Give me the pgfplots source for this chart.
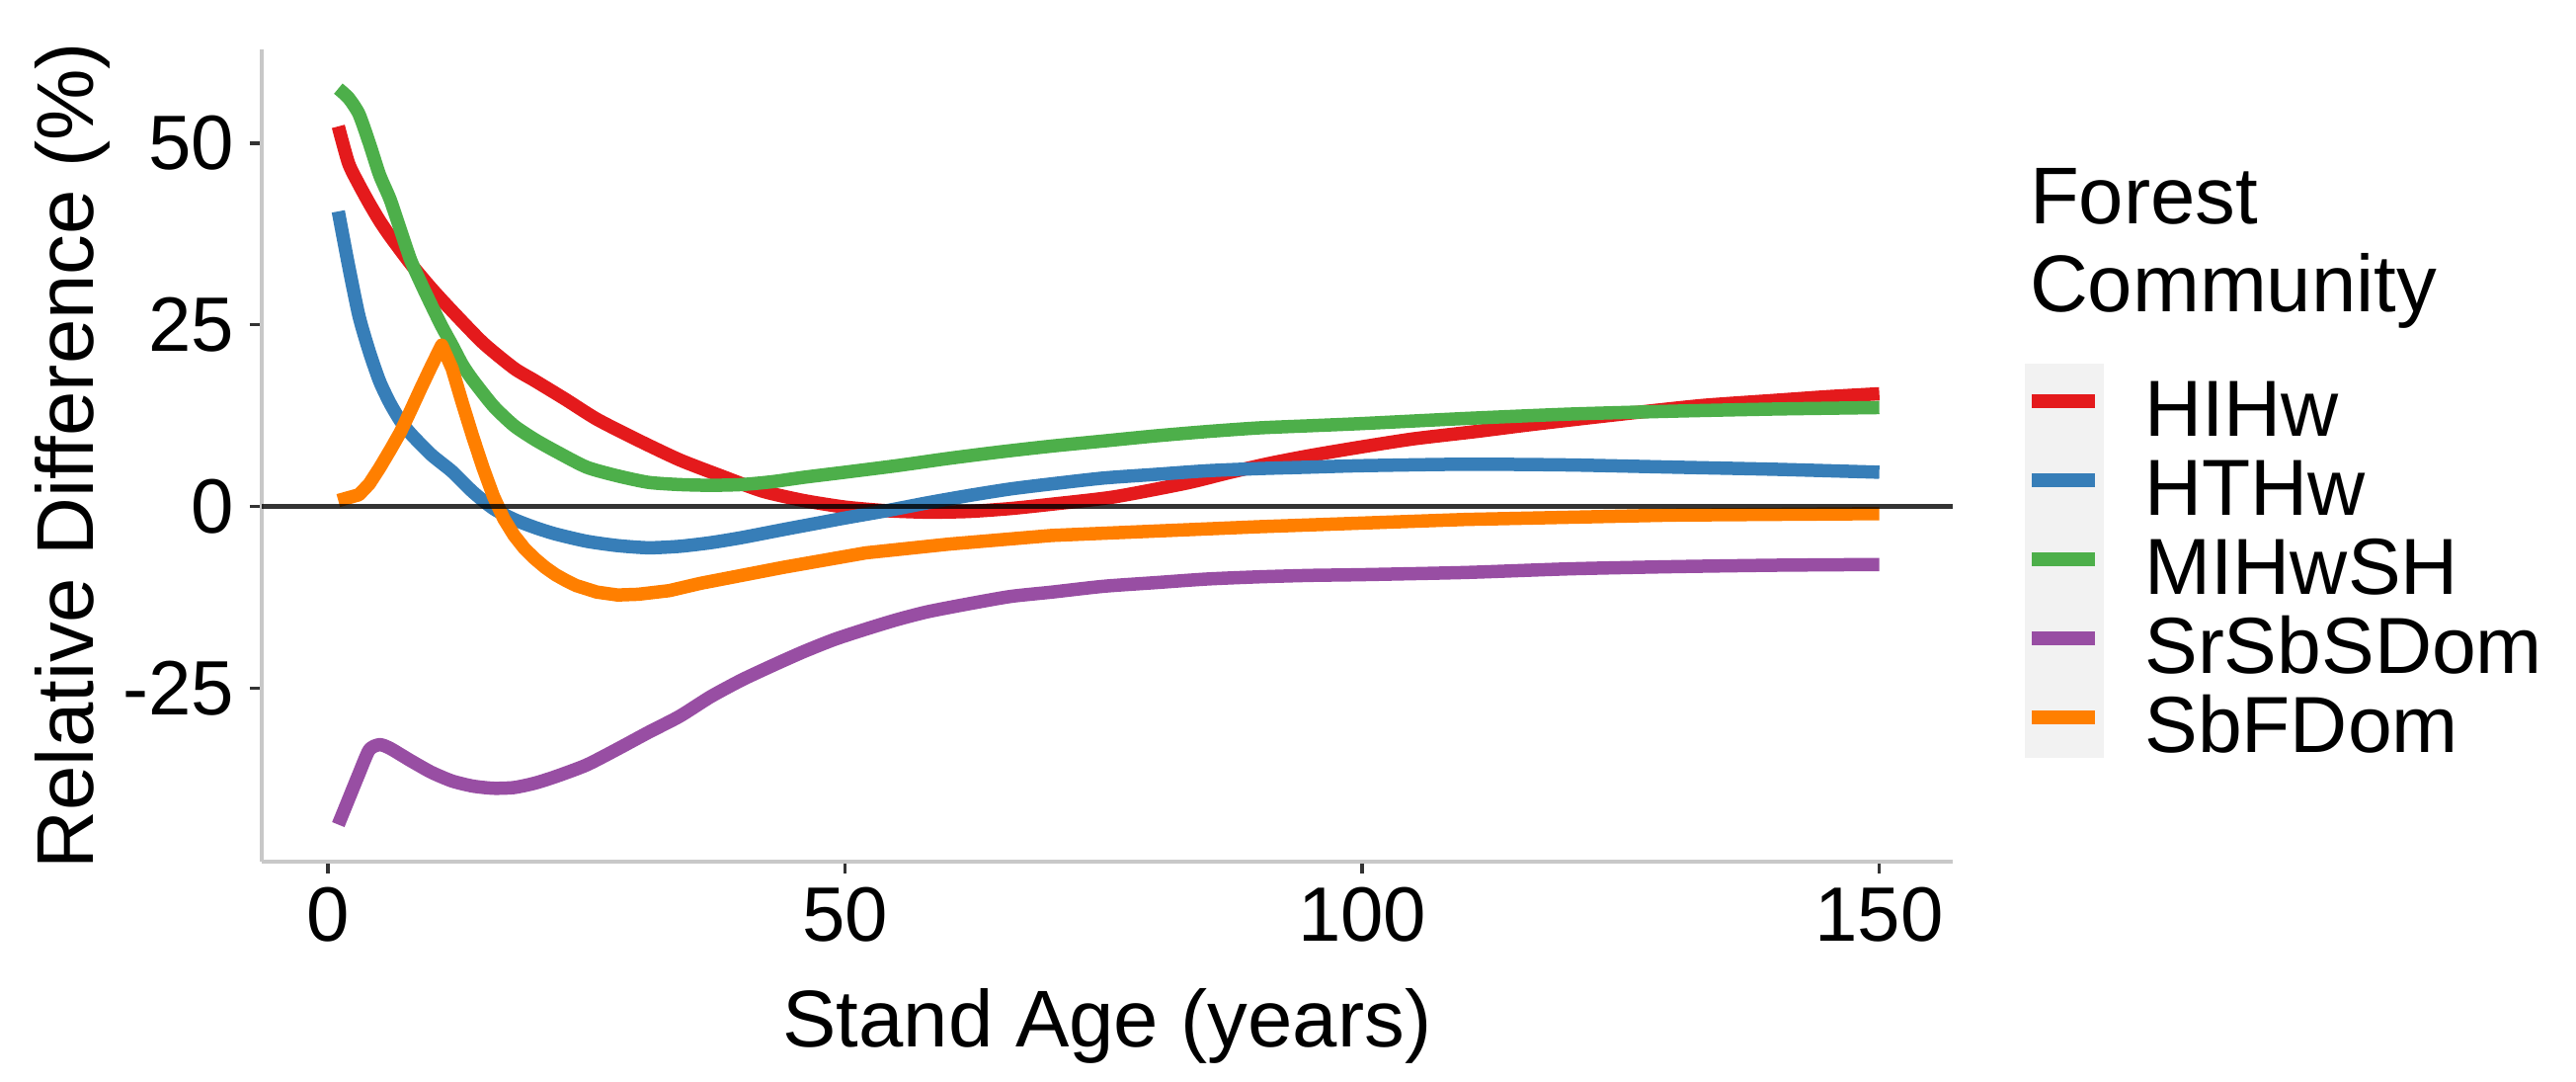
\documentclass[border=0pt]{standalone}
\usepackage{fontspec}
\setmainfont{Liberation Sans}
\usepackage{pgfplots}
\pgfplotsset{compat=1.18}
\definecolor{cRed}{HTML}{E41A1C}
\definecolor{cBlue}{HTML}{377EB8}
\definecolor{cGreen}{HTML}{4DAF4A}
\definecolor{cPurple}{HTML}{984EA3}
\definecolor{cOrange}{HTML}{FF7F00}
\definecolor{keybg}{HTML}{F2F2F2}
\definecolor{axgray}{HTML}{C8C8C8}
\definecolor{tickgray}{HTML}{333333}
\begin{document}
\begin{tikzpicture}
\fill[keybg] (357pt,21pt) rectangle (373pt,100.8pt);
\begin{axis}[
  at={(0,0)}, anchor=south west,
  width=342.4pt, height=164.4pt, scale only axis,
  xmin=-6.4, xmax=157.1, ymin=-48.9, ymax=62.9,
  axis x line*=bottom, axis y line*=left,
  axis line style={draw=axgray, line width=0.8pt},
  tick style={draw=tickgray, line width=0.7pt},
  tick align=outside, major tick length=2.4pt,
  xtick={0,50,100,150}, xticklabels={0,50,100,150},
  ytick={-25,0,25,50}, yticklabels={-25,0,25,50},
  ticklabel style={font=\fontsize{15.6}{18}\selectfont, inner sep=0pt},
  xticklabel style={anchor=north, yshift=-2.6pt},
  yticklabel style={anchor=east, xshift=-3pt},
  xlabel={Stand Age (years)},
  xlabel style={font=\fontsize{16.3}{19}\selectfont, at={(axis description cs:0.5,0)}, anchor=base, yshift=-37.6pt, inner sep=0pt},
  ylabel={Relative Difference (\%)},
  ylabel style={font=\fontsize{16.3}{19}\selectfont, at={(axis description cs:-0.0993,0.5)}, anchor=base, inner sep=0pt},
  clip mode=individual,
  legend style={at={(axis description cs:1.0427,0.5955)}, anchor=north west, draw=none, fill=none,
    inner sep=0pt, outer sep=0pt, row sep=0pt, column sep=0pt,
    font=\fontsize{16.1}{19}\selectfont,
    nodes={inner sep=0pt, text height=11.9pt, text depth=4.1pt},
    cells={anchor=west}},
  legend image code/.code={\draw[#1, line width=2.9pt] (0pt,3.3pt) -- (12.7pt,3.3pt); \path[draw=none, fill=none] (0pt,3.3pt) -- (22.8pt,3.3pt);},
  every axis plot/.append style={line width=2.7pt, line cap=butt, line join=round},
]
% HIHw
\addplot[cRed, smooth, tension=0.4] table {
x y
1 52.3
2 47.2
3 44.3
4 41.7
5 39.3
6 37.2
8 33.4
10 30.0
12 26.9
15 22.5
18 19.0
20 17.3
23 14.7
26 12.0
30 9.1
34 6.4
38 4.2
42 2.1
46 0.8
50 -0.1
54 -0.6
58 -0.8
62 -0.7
66 -0.3
70 0.3
76 1.3
83 3.2
87 4.6
91 5.9
95 7.0
100 8.2
105 9.3
111 10.3
116 11.2
122 12.2
127 13.0
133 13.9
140 14.6
145 15.1
150 15.5
};
\addlegendentry{HIHw}
% HTHw
\addplot[cBlue, smooth, tension=0.4] table {
x y
1 40.6
2 33.1
3 26.2
4 21.3
5 17.2
6 14.2
7 11.8
8 10.0
10 7.1
12 4.8
14 2.0
16 -0.3
18 -1.8
20 -2.9
22 -3.8
25 -4.8
28 -5.4
31 -5.7
34 -5.5
37 -5.0
40 -4.3
44 -3.2
47 -2.4
50 -1.6
54 -0.6
58 0.5
62 1.5
66 2.4
70 3.1
75 3.9
80 4.4
85 4.9
90 5.2
95 5.4
100 5.6
110 5.8
120 5.7
130 5.4
140 5.1
150 4.7
};
\addlegendentry{HTHw}
% MIHwSH
\addplot[cGreen, smooth, tension=0.4] table {
x y
1 57.5
2 56.2
3 54.0
4 50.0
5 45.6
6 42.3
7 38.1
8 33.9
9 30.7
10 27.7
11 24.8
12 22.2
13 19.5
14 17.4
16 13.8
18 11.1
20 9.2
22 7.6
25 5.4
28 4.2
31 3.3
34 3.0
37 2.9
40 3.0
43 3.4
46 4.0
50 4.7
55 5.6
60 6.6
65 7.5
70 8.3
75 9.0
80 9.7
85 10.3
90 10.8
95 11.1
100 11.4
110 12.1
120 12.7
130 13.1
140 13.4
150 13.6
};
\addlegendentry{MIHwSH}
% SrSbSDom
\addplot[cPurple, smooth, tension=0.4] table {
x y
1 -43.8
2 -40.3
3 -36.8
4 -33.5
5 -32.8
6 -33.3
8 -35.0
10 -36.6
12 -37.8
14 -38.5
16 -38.8
18 -38.7
20 -38.1
22 -37.2
25 -35.6
28 -33.4
31 -31.1
34 -28.9
37 -26.2
40 -23.9
43 -21.9
46 -20.0
49 -18.3
52 -16.9
55 -15.6
58 -14.5
62 -13.4
66 -12.4
70 -11.8
75 -11.0
80 -10.5
85 -10.0
90 -9.7
95 -9.5
100 -9.4
110 -9.1
120 -8.6
130 -8.3
140 -8.1
150 -8.0
};
\addlegendentry{SrSbSDom}
% SbFDom
\addplot[cOrange] table {
x y
1 0.8
2 1.2
3 1.6
4 3.1
5 5.3
6 7.7
7 10.2
8 13.2
9 16.3
10 19.3
11 22.2
12 19.0
13 14.2
14 9.6
15 5.3
16 1.4
17 -1.7
18 -4.0
19 -5.8
20 -7.2
21 -8.4
22 -9.4
23 -10.2
24 -10.9
26 -11.8
28 -12.2
30 -12.1
33 -11.6
36 -10.6
40 -9.5
44 -8.4
48 -7.4
52 -6.4
56 -5.8
60 -5.2
65 -4.6
70 -4.0
75 -3.7
80 -3.4
90 -2.8
100 -2.3
110 -1.8
120 -1.5
130 -1.2
140 -1.1
150 -1.0
};
\addlegendentry{SbFDom}
% zero line
\addplot[black, opacity=0.8, line width=1.07pt, forget plot] coordinates {(-6.4,0) (157.1,0)};
\node[anchor=base west, inner sep=0pt, font=\fontsize{16.3}{19}\selectfont] at (axis description cs:1.045,0.7847) {Forest};
\node[anchor=base west, inner sep=0pt, font=\fontsize{16.3}{19}\selectfont] at (axis description cs:1.045,0.6764) {Community};
\end{axis}
\pgfresetboundingbox
\path[use as bounding box] (-53pt,-44.6pt) rectangle (468.6pt,174.4pt);
\end{tikzpicture}
\end{document}
